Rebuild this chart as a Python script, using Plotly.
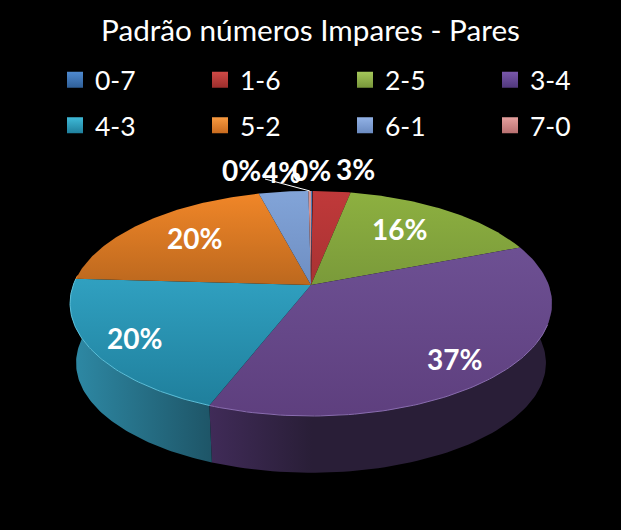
import numpy as np
import plotly.graph_objects as go

categories = ["0-7", "1-6", "2-5", "3-4", "4-3", "5-2", "6-1", "7-0"]
values = [0.1, 3.0, 16.0, 36.8, 20.0, 20.0, 3.9, 0.2]

legend_colors = ["#4F8AD0", "#D04A46", "#A5C85A", "#7A58AC", "#3FBAD8", "#F89A40", "#92B2E6", "#E5A09E"]
legend_dark = ["#2F5F98", "#9C2E2C", "#78963A", "#50387C", "#1F7F9C", "#C86A1E", "#6A8AC0", "#B87070"]
top_light = ["#4F81BD", "#C0393A", "#8DB040", "#6D5093", "#30A0C0", "#F08628", "#82A4D8", "#D99694"]
top_dark = ["#3F6BA0", "#A83232", "#7A9A3A", "#5E3F7E", "#1F7F9C", "#BC681E", "#6E8EC2", "#C08080"]
wall_light = ["#2F5C90", "#7A2A2A", "#5E7A2C", "#402B58", "#2E8AA6", "#A85C1A", "#5C78A8", "#A06868"]
wall_dark = ["#2F5C90", "#7A2A2A", "#5E7A2C", "#291E37", "#1E5567", "#A85C1A", "#5C78A8", "#A06868"]
rim_colors = ["#4F81BD", "#C0393A", "#8DB040", "#8A6DB0", "#5CC0DA", "#F08628", "#82A4D8", "#D99694"]

# pie geometry in pixels, perspective fake like the old excel 3d pie
CX, CY = 311, 285
RX, RY, K = 237.7, 109.5, 0.164
DEPTH, SHRINK = 60, 0.975


def project(deg, scale=1.0, drop=0):
    t = np.radians(deg)
    u, v = np.sin(t), -np.cos(t)
    d = 1 - K * v
    return CX + scale * RX * u / d, CY + drop + scale * RY * v / d


total = sum(values)
edges = np.cumsum([0] + values) / total * 360

fig = go.Figure()

# side wall, only the front part can be seen
for i in range(len(values)):
    a, b = max(edges[i], 85), min(edges[i + 1], 275)
    if b <= a:
        continue
    t = np.linspace(a, b, 80)
    x1, y1 = project(t)
    x2, y2 = project(t[::-1], SHRINK, DEPTH)
    # purple is lit on its left end only
    stops = [[0, wall_light[i]], [0.3, wall_dark[i]], [1, wall_dark[i]]] if i == 3 else [[0, wall_light[i]], [1, wall_dark[i]]]
    fig.add_trace(go.Scatter(
        x=np.r_[x1, x2], y=np.r_[y1, y2], mode="lines", fill="toself",
        line=dict(width=0), showlegend=False, hoverinfo="skip",
        fillgradient=dict(type="horizontal", colorscale=stops),
    ))

# top of the pie
for i in range(len(values)):
    t = np.linspace(edges[i], edges[i + 1], 80)
    x, y = project(t)
    fig.add_trace(go.Scatter(
        x=np.r_[CX, x, CX], y=np.r_[CY, y, CY], mode="lines", fill="toself",
        line=dict(width=0), showlegend=False, hoverinfo="skip",
        fillgradient=dict(type="vertical", colorscale=[[0, top_dark[i]], [1, top_light[i]]]),
    ))

# thin lit edge where the top meets the wall
for i in range(len(values)):
    a, b = max(edges[i], 110), min(edges[i + 1], 275)
    if b <= a:
        continue
    x, y = project(np.linspace(a, b, 80))
    fig.add_trace(go.Scatter(x=x, y=y, mode="lines", line=dict(color=rim_colors[i], width=1),
                             showlegend=False, hoverinfo="skip"))

# leader line of the 7-0 label
lx, ly = project(edges[-2] + (edges[-1] - edges[-2]) / 2)
fig.add_trace(go.Scatter(x=[265, lx], y=[179, ly], mode="lines",
                         line=dict(color="#FFFFFF", width=1),
                         showlegend=False, hoverinfo="skip"))

label_pos = [(241, 170), (355, 169), (399, 229), (454, 359),
             (134, 338), (194, 238), (281, 172), (311, 170)]
# order so the labels overlap like the original
for i in [7, 6, 0, 1, 2, 3, 4, 5]:
    fig.add_annotation(x=label_pos[i][0], y=label_pos[i][1], showarrow=False,
                       text="<b>%d%%</b>" % round(values[i] / total * 100),
                       font=dict(family="Lato", size=28, color="#FFFFFF"))

fig.update_layout(
    width=621, height=530, margin=dict(l=0, r=0, t=0, b=0),
    paper_bgcolor="#000000", plot_bgcolor="#000000",
    title=dict(text="Padrão números Impares - Pares", x=0.5, xanchor="center",
               y=0.943, yanchor="middle",
               font=dict(family="Lato", size=29.7, color="#FFFFFF")),
    xaxis=dict(range=[0, 621], visible=False, fixedrange=True),
    yaxis=dict(range=[530, 0], visible=False, fixedrange=True),
)

# one legend per entry, a single one wraps before the last column fits
for i, name in enumerate(categories):
    key = "legend" if i == 0 else "legend%d" % (i + 1)
    fig.add_trace(go.Scatter(
        x=[None], y=[None], mode="markers", name=name, legend=key,
        marker=dict(symbol="square", size=16, color=legend_colors[i],
                    gradient=dict(type="vertical", color=legend_dark[i])),
    ))
    fig.update_layout({key: dict(
        xanchor="left", yanchor="middle", x=(55 + 145 * (i % 4)) / 621,
        y=0.849 if i < 4 else 0.763, bgcolor="rgba(0,0,0,0)", itemsizing="trace",
        font=dict(family="Lato", size=26.5, color="#FFFFFF"),
    )})

# page default has an 8px body margin
fig.write_html("out.html", config={"displayModeBar": False},
               post_script="document.body.style.margin='0';document.body.style.background='#000';document.body.style.overflow='hidden';")
